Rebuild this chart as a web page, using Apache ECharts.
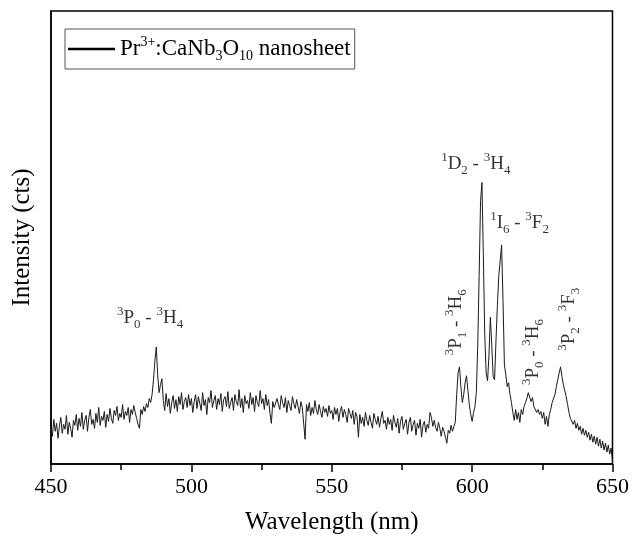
<!DOCTYPE html>
<html>
<head>
<meta charset="utf-8">
<script src="https://cdn.jsdelivr.net/npm/echarts@6/dist/echarts.min.js"></script>
<style>html,body{margin:0;padding:0;background:#fff;}#c{width:632px;height:540px;}</style>
</head>
<body>
<div id="c"></div>
<script>
// Sampling grid of the spectrum (nm)
const wlStart = 450;
const wlStep = 0.5;
// Intensity (arbitrary units, cts), one value per 0.5 nm from 450 to 650 nm
const intensity = [
  // 450-460
  37,28,45,33,41,26,38,47,31,40,35,49,30,42,36,27,44,39,50,34,
  // 460-470
  46,38,52,35,44,49,33,47,55,40,45,36,51,42,57,39,48,44,53,37,
  // 470-480
  50,43,56,46,41,54,49,58,44,51,47,60,45,53,49,57,42,55,50,59,
  // 480-490
  52,46,40,36,55,50,58,53,61,57,66,62,70,85,104,118,90,72,80,86,
  // 490-500
  64,54,71,58,66,51,62,69,56,65,53,68,60,72,55,63,67,57,70,59,
  // 500-510
  66,52,63,70,56,68,61,54,72,59,65,50,67,62,74,57,64,69,55,66,
  // 510-520
  60,71,53,65,68,58,73,56,62,67,54,70,63,59,75,57,66,52,69,61,
  // 520-530
  64,56,72,60,67,53,69,62,58,74,61,66,55,70,59,65,51,41,63,57,
  // 530-540
  58,66,60,55,69,62,57,67,52,64,59,54,68,61,56,65,58,51,63,57,
  // 540-550
  55,25,60,53,62,49,57,51,64,55,50,60,53,47,58,52,56,48,59,51,
  // 550-560
  54,45,57,50,56,43,53,58,47,55,50,42,56,51,46,54,40,52,48,27,
  // 560-570
  50,41,47,38,52,44,39,49,42,36,51,45,40,48,37,46,53,41,44,35,
  // 570-580
  47,40,45,34,49,42,37,46,31,43,48,35,41,45,30,42,47,33,40,44,
  // 580-590
  29,41,36,45,27,39,43,32,40,36,52,47,38,44,37,33,42,36,28,37,
  // 590-600
  33,27,21,34,31,39,33,38,42,70,92,98,78,62,70,82,89,74,60,50,
  // 600-610
  43,52,58,72,120,190,265,284,210,130,92,84,110,148,120,88,85,125,160,190,
  // 610-620
  205,221,165,100,90,78,82,70,62,52,44,55,45,52,42,55,50,58,62,66,
  // 620-630
  72,70,63,67,58,60,52,55,50,53,46,52,40,48,38,50,55,62,60,70,
  // 630-640
  78,85,92,98,88,80,74,68,60,52,46,48,40,44,36,41,34,38,30,36,
  // 640-650
  29,34,27,32,24,30,22,28,20,27,18,25,16,23,14,21,12,19,10,16,
  // 650
  3
];

// Axis ticks
const xTicks = [450, 500, 550, 600, 650];

// Transition annotations
const annText = [
  '{sp|3}{m|P}{sb|0}{m| - }{sp|3}{m|H}{sb|4}',
  '{sp|1}{m|D}{sb|2}{m| - }{sp|3}{m|H}{sb|4}',
  '{sp|1}{m|I}{sb|6}{m| - }{sp|3}{m|F}{sb|2}',
  '{sp|3}{m|P}{sb|1}{m| - }{sp|3}{m|H}{sb|6}',
  '{sp|3}{m|P}{sb|0}{m| - }{sp|3}{m|H}{sb|6}',
  '{sp|3}{m|P}{sb|2}{m| - }{sp|3}{m|F}{sb|3}'
];
const annWl = [485.3, 601.3, 616.9, 594.2, 621.8, 634.5];
const annH  = [147, 303, 243, 143, 113, 146];
const annRot = [0, 0, 0, 90, 90, 90];

const seriesName = 'Pr3+:CaNb3O10 nanosheet';

const FONT = '"Liberation Serif", "Times New Roman", serif';

const lineData = intensity.map((v, i) => [wlStart + i * wlStep, v]);
const annData = annWl.map((w, i) => ({
  value: [w, annH[i]],
  label: { formatter: annText[i], rotate: annRot[i] }
}));

const richStyles = (base, small, lh) => ({
  m: { fontSize: base, fontFamily: FONT, color: '#000', lineHeight: lh },
  sp: { fontSize: small, fontFamily: FONT, color: '#000', lineHeight: Math.round(small * 0.6), verticalAlign: 'top' },
  sb: { fontSize: small, fontFamily: FONT, color: '#000', lineHeight: Math.round(small * 1.5), verticalAlign: 'bottom' }
});

const chart = echarts.init(document.getElementById('c'), null, { renderer: 'canvas' });
chart.setOption({
  animation: false,
  backgroundColor: '#fff',
  grid: { left: 51, right: 17, top: 11, bottom: 72, show: true, borderColor: '#000', borderWidth: 1.5 },
  legend: {
    left: 65, top: 29,
    data: [{ name: seriesName, icon: 'rect' }],
    padding: [6, 4, 6, 3],
    borderColor: '#555', borderWidth: 1,
    itemWidth: 47, itemHeight: 2.5, itemGap: 4,
    itemStyle: { color: '#000' },
    formatter: () => '{m|Pr}{sp|3+}{m|:CaNb}{sb|3}{m|O}{sb|10}{m| nanosheet}',
    textStyle: { rich: richStyles(23, 14, 28) }
  },
  xAxis: {
    type: 'value', min: 450, max: 650, interval: 50,
    name: 'Wavelength (nm)', nameLocation: 'middle', nameGap: 46,
    nameTextStyle: { fontFamily: FONT, fontSize: 25, color: '#000' },
    axisLine: { show: true, lineStyle: { color: '#000', width: 1.5 } },
    axisTick: { show: true, length: 8, lineStyle: { color: '#000', width: 1.5 } },
    minorTick: { show: true, splitNumber: 2, length: 6, lineStyle: { color: '#000', width: 1.5 } },
    splitLine: { show: false },
    axisLabel: { fontFamily: FONT, fontSize: 22, color: '#000', margin: 12,
      formatter: v => xTicks.includes(v) ? String(v) : '' }
  },
  yAxis: {
    type: 'value', min: 0, max: 457,
    name: 'Intensity (cts)', nameLocation: 'middle', nameGap: 16,
    nameTextStyle: { fontFamily: FONT, fontSize: 25, color: '#000' },
    axisLine: { show: true, lineStyle: { color: '#000', width: 1.5 } },
    axisTick: { show: false },
    axisLabel: { show: false },
    splitLine: { show: false }
  },
  series: [
    {
      name: seriesName, type: 'line', data: lineData,
      showSymbol: false, symbol: 'none',
      lineStyle: { color: '#1a1a1a', width: 1 },
      itemStyle: { color: '#000' },
      z: 3
    },
    {
      name: 'annotations', type: 'scatter', data: annData,
      symbolSize: 0, silent: true,
      label: { show: true, position: 'inside', align: 'center', verticalAlign: 'middle',
        rich: richStyles(19, 13, 26) },
      z: 4
    }
  ]
});
</script>
</body>
</html>
